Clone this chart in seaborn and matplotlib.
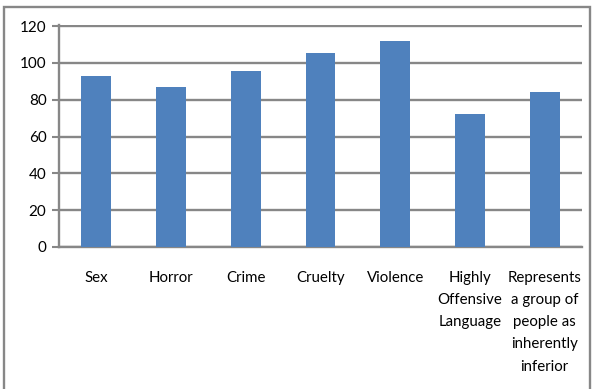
import numpy as np
import pandas as pd
import matplotlib
matplotlib.use("Agg")
import matplotlib.pyplot as plt
import seaborn as sns
from matplotlib.patches import Rectangle

categories = ["Sex", "Horror", "Crime", "Cruelty", "Violence",
              "Highly\nOffensive\nLanguage",
              "Represents\na group of\npeople as\ninherently\ninferior"]
values = [93, 87, 95.5, 105.5, 112, 72, 84]
yticks = [0, 20, 40, 60, 80, 100, 120]

df = pd.DataFrame({"category": categories, "value": values})

sns.set_style("white")
plt.rcParams["font.family"] = ["Lato", "DejaVu Sans"]

fig = plt.figure(figsize=(5.93, 3.89), dpi=100)
ax = fig.add_axes([59 / 593, 1 - 247 / 389, 523 / 593, 222 / 389])

sns.barplot(data=df, x="category", y="value", color="#4F81BD",
            width=0.4, saturation=1, linewidth=0, ax=ax, zorder=3)

ax.set_ylim(0, 120.6)
ax.set_xlim(-0.5, len(categories) - 0.5)
ax.set_yticks(yticks)
ax.yaxis.grid(True, color="#878787", linewidth=1.7, zorder=0)
ax.set_axisbelow(True)
ax.set_xlabel("")
ax.set_ylabel("")

for s in ["top", "right"]:
    ax.spines[s].set_visible(False)
for s in ["left", "bottom"]:
    ax.spines[s].set_color("#878787")
    ax.spines[s].set_linewidth(1.7)

ax.set_xticks(np.arange(len(categories)))
ax.set_xticklabels(categories, fontsize=10.8, linespacing=1.75,
                   va="top", ha="center", color="black")
ax.set_xticks(np.arange(len(categories) + 1) - 0.5, minor=True)
ax.tick_params(axis="x", which="major", length=0, pad=17)
ax.tick_params(axis="x", which="minor", length=5, width=1.5,
               color="#878787", direction="out")
ax.tick_params(axis="y", length=5, width=1.5, color="#878787",
               direction="out", labelsize=11, labelcolor="black",
               pad=4, left=True)

# outer chart border
fig.patches.append(Rectangle((4 / 593, -0.05), 586 / 593, 1 - 7 / 389 + 0.05,
                             transform=fig.transFigure, fill=False,
                             edgecolor="#878787", linewidth=1.7))

fig.savefig("out.png", dpi=100)
